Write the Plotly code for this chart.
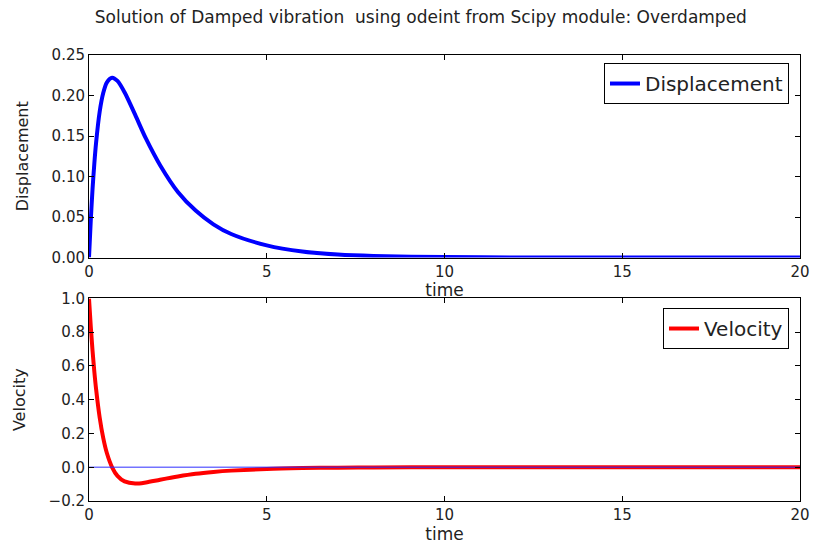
import plotly.graph_objects as go
from plotly.subplots import make_subplots

title_text = "Solution of Damped vibration  using odeint from Scipy module: Overdamped"

time = [0, 0.05, 0.1, 0.15, 0.2, 0.3, 0.4, 0.5, 0.65, 0.8, 1.0, 1.3, 1.6, 2.0,
        2.5, 3.0, 3.5, 4.0, 5, 6, 7, 8, 10, 12, 15, 20]
displacement = [0, 0.046, 0.085, 0.116, 0.142, 0.180, 0.203, 0.216, 0.222, 0.218,
                0.204, 0.176, 0.147, 0.114, 0.081, 0.058, 0.041, 0.029, 0.015,
                0.0074, 0.0037, 0.0019, 0.0005, 0.0001, 0.0, 0.0]
velocity = [1.0, 0.833, 0.690, 0.567, 0.462, 0.295, 0.174, 0.086, 0.0, -0.051,
            -0.084, -0.097, -0.090, -0.074, -0.055, -0.039, -0.028, -0.020, -0.010,
            -0.005, -0.0025, -0.0013, -0.0003, -0.0001, 0.0, 0.0]
zero_line_x = [0, 20]
zero_line_y = [0, 0]

x_ticks = [0, 5, 10, 15, 20]
disp_ticks = [0.0, 0.05, 0.10, 0.15, 0.20, 0.25]
disp_labels = ["0.00", "0.05", "0.10", "0.15", "0.20", "0.25"]
vel_ticks = [-0.2, 0.0, 0.2, 0.4, 0.6, 0.8, 1.0]
vel_labels = ["\u22120.2", "0.0", "0.2", "0.4", "0.6", "0.8", "1.0"]

FONT = "DejaVu Sans"
TXT = "#222"

fig = make_subplots(rows=2, cols=1, vertical_spacing=0.0919)

fig.add_trace(go.Scatter(x=time, y=displacement, mode="lines", name="Displacement",
                         line=dict(color="#0000ff", width=4, shape="spline", smoothing=0.8),
                         legend="legend"), row=1, col=1)
fig.add_trace(go.Scatter(x=time, y=velocity, mode="lines", name="Velocity",
                         line=dict(color="#ff0000", width=4, shape="spline", smoothing=0.8),
                         legend="legend2"), row=2, col=1)
fig.add_trace(go.Scatter(x=zero_line_x, y=zero_line_y, mode="lines", showlegend=False,
                         line=dict(color="rgba(40,40,255,0.65)", width=1.5)), row=2, col=1)

axis_common = dict(showline=True, linecolor="black", linewidth=1, mirror="allticks",
                   ticks="inside", ticklen=5, tickcolor="black", showgrid=False,
                   zeroline=False, automargin=False,
                   tickfont=dict(family=FONT, size=15, color=TXT))

for r in (1, 2):
    fig.update_xaxes(range=[0, 20], tickvals=x_ticks, ticktext=[str(v) for v in x_ticks],
                     title=dict(text="time", font=dict(family=FONT, size=17, color=TXT),
                                standoff=0),
                     row=r, col=1, **axis_common)

fig.update_yaxes(range=[0, 0.25], tickvals=disp_ticks, ticktext=disp_labels,
                 title=dict(text="Displacement", font=dict(family=FONT, size=16, color=TXT),
                            standoff=18),
                 row=1, col=1, **axis_common)
fig.update_yaxes(range=[-0.2, 1.0], tickvals=vel_ticks, ticktext=vel_labels,
                 title=dict(text="Velocity", font=dict(family=FONT, size=16, color=TXT),
                            standoff=18),
                 row=2, col=1, **axis_common)

fig.update_layout(
    width=814, height=544,
    margin=dict(l=89, r=14, t=55, b=43),
    paper_bgcolor="white", plot_bgcolor="white",
    title=dict(text=title_text, x=0.517, xanchor="center", y=0.968, yanchor="middle",
               font=dict(family=FONT, size=17, color=TXT)),
    legend=dict(x=0.9845, y=0.982, xanchor="right", yanchor="top",
                bordercolor="black", borderwidth=1, bgcolor="white",
                font=dict(family=FONT, size=20, color=TXT)),
    legend2=dict(x=0.9845, y=0.4327, xanchor="right", yanchor="top",
                 bordercolor="black", borderwidth=1, bgcolor="white",
                 font=dict(family=FONT, size=20, color=TXT)),
)

fig.write_html("out.html")
